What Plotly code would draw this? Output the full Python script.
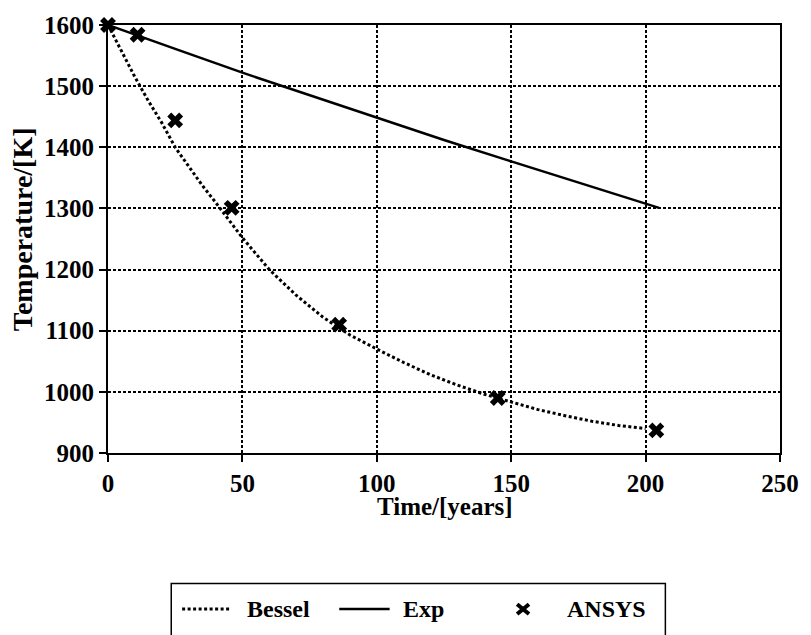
import plotly.graph_objects as go

# Analytical solution (Bessel series) - temperature vs time
bessel_time = [0, 5, 10, 15, 20, 25, 30, 35, 40, 50, 60, 70, 80, 90, 100,
               110, 120, 130, 140, 150, 160, 170, 180, 190, 200]
bessel_temp = [1600, 1558, 1515, 1476, 1440, 1400, 1368, 1338, 1310, 1252, 1200,
               1158, 1122, 1093, 1070, 1048, 1028, 1011, 996, 983, 971, 961,
               952, 945, 940]

# Simple exponential decay model
exp_time = [0, 10, 25, 50, 75, 100, 125, 150, 175, 205]
exp_temp = [1600, 1584, 1561, 1522, 1485, 1448, 1412, 1377, 1343, 1301]

# Finite element results
ansys_time = [0, 11, 25, 46, 86, 145, 204]
ansys_temp = [1600, 1584, 1444, 1301, 1110, 990, 937]

x_ticks = [0, 50, 100, 150, 200, 250]
y_ticks = [900, 1000, 1100, 1200, 1300, 1400, 1500, 1600]
x_range = [0, 250]
y_range = [900, 1600]

legend_names = ["Bessel", "Exp", "ANSYS"]

W, H = 811, 635
L, R, T, B = 108, 23, 17, 182
PW, PH = W - L - R, H - T - B

FONT = "Liberation Serif"


def px(x):
    """Pixel column -> paper fraction."""
    return (x - L) / PW


def py(y):
    """Pixel row -> paper fraction."""
    return (H - B - y) / PH


marker_style = dict(symbol="x", size=14, color="black", line=dict(width=0))
bessel_line = dict(color="black", width=3, dash="3px,2.5px")
exp_line = dict(color="black", width=2.5)

fig = go.Figure()
fig.add_trace(go.Scatter(x=bessel_time, y=bessel_temp, mode="lines",
                         line=bessel_line, name=legend_names[0]))
fig.add_trace(go.Scatter(x=exp_time, y=exp_temp, mode="lines",
                         line=exp_line, name=legend_names[1]))
fig.add_trace(go.Scatter(x=ansys_time, y=ansys_temp, mode="markers",
                         marker=marker_style, cliponaxis=False,
                         name=legend_names[2]))

axis_common = dict(
    showline=True, linecolor="black", linewidth=2, mirror=True,
    ticks="outside", ticklen=7, tickwidth=1.5, tickcolor="black",
    showgrid=True, gridcolor="black", gridwidth=1.5, griddash="3px,2px",
    zeroline=False,
    tickfont=dict(family=FONT, size=25, color="black", weight="bold"),
)

fig.update_layout(
    width=W, height=H,
    margin=dict(l=L, r=R, t=T, b=B),
    paper_bgcolor="white", plot_bgcolor="white",
    showlegend=False,
    xaxis=dict(range=x_range, tickvals=x_ticks, **axis_common),
    yaxis=dict(range=y_range, tickvals=y_ticks, **axis_common),
)

title_font = dict(family=FONT, color="black", weight="bold")
annotations = [
    dict(text="Time/[years]", x=px(449), y=py(508), xref="paper", yref="paper",
         xanchor="center", yanchor="middle", showarrow=False,
         font=dict(size=25, **title_font)),
    dict(text="Temperature/[K]", x=px(21), y=py(225), xref="paper", yref="paper",
         xanchor="center", yanchor="middle", showarrow=False, textangle=-90,
         font=dict(size=28, **title_font)),
]

# Legend box below the plot, drawn by hand
legend_y = 612
key_x = 528
entries_text = [(legend_names[0], 247), (legend_names[1], 404), (legend_names[2], 570)]
for name, x0 in entries_text:
    annotations.append(dict(text=name, x=px(x0), y=py(legend_y), xref="paper", yref="paper",
                            xanchor="left", yanchor="middle", showarrow=False,
                            font=dict(size=24, **title_font)))

cross = 6
shapes = [
    dict(type="rect", xref="paper", yref="paper", x0=px(172), x1=px(672),
         y0=py(586), y1=py(660), line=dict(color="black", width=1.5)),
    dict(type="line", xref="paper", yref="paper", x0=px(183), x1=px(233),
         y0=py(legend_y), y1=py(legend_y), line=bessel_line),
    dict(type="line", xref="paper", yref="paper", x0=px(342), x1=px(393),
         y0=py(legend_y), y1=py(legend_y), line=exp_line),
    # cross symbol for the ANSYS entry
    dict(type="line", xref="paper", yref="paper",
         x0=px(key_x - cross), x1=px(key_x + cross),
         y0=py(legend_y - cross + 1), y1=py(legend_y + cross - 1),
         line=dict(color="black", width=4)),
    dict(type="line", xref="paper", yref="paper",
         x0=px(key_x - cross), x1=px(key_x + cross),
         y0=py(legend_y + cross - 1), y1=py(legend_y - cross + 1),
         line=dict(color="black", width=4)),
]

fig.update_layout(annotations=annotations, shapes=shapes)

fig.write_html("out.html")
